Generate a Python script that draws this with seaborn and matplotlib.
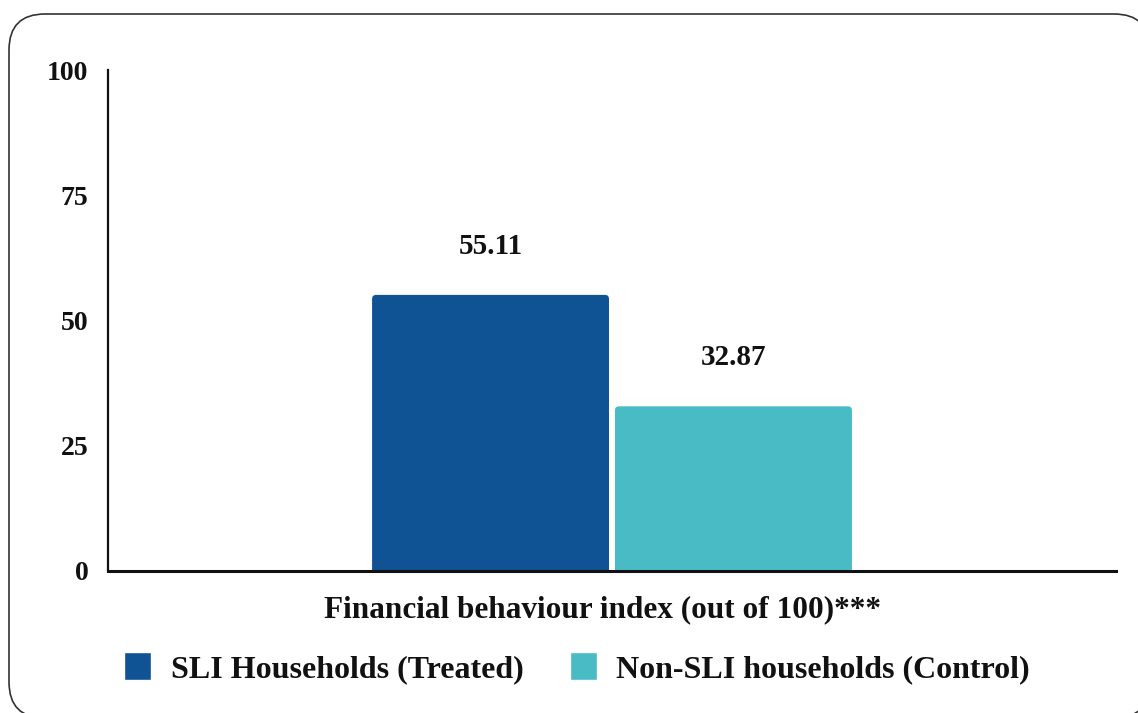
import matplotlib
matplotlib.use("Agg")
import matplotlib.pyplot as plt
from matplotlib.patches import FancyBboxPatch
import seaborn as sns
import pandas as pd

# Data
category = ["Financial behaviour index (out of 100)***"]
groups = ["SLI Households (Treated)", "Non-SLI households (Control)"]
values = [55.11, 32.87]
colors = ["#0F5394", "#48BBC5"]
y_ticks = [0, 25, 50, 75, 100]

df = pd.DataFrame({"category": category * len(groups), "group": groups, "value": values})

sns.set_theme(style="white")
plt.rcParams["font.family"] = ["Liberation Serif", "DejaVu Serif"]
plt.rcParams["font.weight"] = "bold"

fig = plt.figure(figsize=(11.38, 7.13), dpi=100)

# Rounded frame around the whole chart (white face, drawn beneath everything)
frame = FancyBboxPatch((0.09, -0.05), 11.41, 7.04,
                       boxstyle="round,pad=0,rounding_size=0.36",
                       transform=fig.dpi_scale_trans, facecolor="white",
                       edgecolor="#333333", linewidth=1.2, zorder=-5)
fig.patches.append(frame)

ax = fig.add_axes([108 / 1138, 1 - 571 / 713, (1116 - 108) / 1138, (571 - 70) / 713])
ax.set_facecolor("none")

sns.barplot(data=df, x="category", y="value", hue="group", hue_order=groups,
            palette=colors, width=0.482, gap=0.0247, ax=ax, saturation=1)

ax.set_xlim(-0.5, 0.5)
ax.set_ylim(0, 100)
ax.set_yticks(y_ticks)
ax.set_xlabel("")
ax.set_ylabel("")

# Replace the plain rectangles with bars that have softly rounded corners
fig.canvas.draw()
px_x = ax.transData.transform((1, 0))[0] - ax.transData.transform((0, 0))[0]
px_y = ax.transData.transform((0, 1))[1] - ax.transData.transform((0, 0))[1]
aspect = px_x / px_y
radius_px = 4
rects = list(ax.patches)
for rect, val in zip(rects, values):
    x0, w, c = rect.get_x(), rect.get_width(), rect.get_facecolor()
    rect.remove()
    fb = FancyBboxPatch((x0, -2), w, val + 2,
                        boxstyle=f"round,pad=0,rounding_size={radius_px / px_x}",
                        mutation_aspect=aspect, facecolor=c, edgecolor="none",
                        zorder=2, clip_on=True)
    ax.add_patch(fb)
    ax.annotate(f"{val:.2f}", (x0 + w / 2, val), xytext=(0, 35),
                textcoords="offset points", ha="center", va="center",
                fontsize=21, fontweight="bold", color="#111111")

for side in ["top", "right"]:
    ax.spines[side].set_visible(False)
ax.spines["left"].set_color("#111111")
ax.spines["left"].set_linewidth(1.6)
ax.spines["bottom"].set_color("#111111")
ax.spines["bottom"].set_linewidth(2.2)
ax.tick_params(axis="y", length=0, pad=14, labelsize=20, labelcolor="#111111")
for lbl in ax.get_yticklabels():
    lbl.set_fontweight("bold")

# Category name under the axis, set slightly left of the bar group centre
ax.set_xticks([0])
ax.set_xticklabels([""])
ax.tick_params(axis="x", length=0)
ax.annotate(category[0], (0, 0), xycoords=ax.get_xaxis_transform(),
            xytext=(-7, -28), textcoords="offset points",
            ha="center", va="center", fontsize=22.5, fontweight="bold",
            color="#111111", annotation_clip=False)
ax.grid(False)

# Legend below the axis
handles, labels = ax.get_legend_handles_labels()
ax.get_legend().remove()
leg = fig.legend(handles, labels, loc="center", ncol=2, frameon=False,
                 bbox_to_anchor=(577 / 1138, 1 - 668 / 713),
                 bbox_transform=fig.transFigure,
                 prop={"size": 23, "weight": "bold"},
                 handlelength=0.85, handleheight=1.0, handletextpad=0.6,
                 columnspacing=1.45, labelcolor="#111111")

fig.savefig("out.png", dpi=100, facecolor="white")
